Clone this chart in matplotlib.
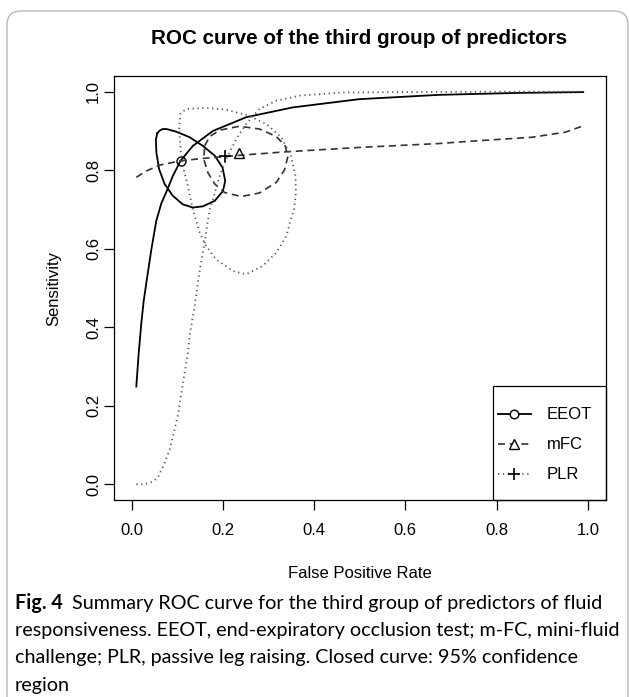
import matplotlib
matplotlib.use('Agg')
import matplotlib.pyplot as plt
from matplotlib.lines import Line2D
from matplotlib.patches import FancyBboxPatch, Rectangle
from matplotlib.transforms import IdentityTransform

plt.rcParams['font.family'] = ['Liberation Sans', 'DejaVu Sans']

title = "ROC curve of the third group of predictors"
names = ["EEOT", "mFC", "PLR"]

# summary ROC curves
eeot_fpr = [0.010, 0.015, 0.021, 0.026, 0.032, 0.043, 0.054, 0.065, 0.076, 0.090, 0.107,
            0.134, 0.178, 0.251, 0.353, 0.499, 0.674, 0.850, 0.990]
eeot_sens = [0.249, 0.330, 0.410, 0.465, 0.513, 0.598, 0.672, 0.716, 0.745, 0.785, 0.824,
             0.862, 0.900, 0.935, 0.960, 0.981, 0.992, 0.997, 0.999]

mfc_fpr = [0.010, 0.032, 0.061, 0.107, 0.156, 0.236, 0.339, 0.499, 0.586, 0.674, 0.732,
           0.878, 0.951, 0.990]
mfc_sens = [0.782, 0.798, 0.813, 0.824, 0.830, 0.838, 0.847, 0.858, 0.863, 0.868, 0.873,
            0.884, 0.897, 0.913]

plr_fpr = [0.010, 0.025, 0.038, 0.048, 0.058, 0.072, 0.083, 0.092, 0.102, 0.109, 0.116,
           0.123, 0.128, 0.133, 0.138, 0.145, 0.153, 0.160, 0.165, 0.171, 0.178, 0.193,
           0.207, 0.229, 0.251, 0.280, 0.317, 0.368, 0.462, 0.600, 0.800, 0.990]
plr_sens = [0.000, 0.000, 0.003, 0.008, 0.019, 0.054, 0.088, 0.130, 0.181, 0.232, 0.284,
            0.335, 0.386, 0.420, 0.454, 0.513, 0.573, 0.616, 0.658, 0.700, 0.726, 0.786,
            0.828, 0.879, 0.918, 0.956, 0.977, 0.990, 0.998, 0.999, 1.000, 1.000]

# summary points
eeot_pt = (0.107, 0.824)
mfc_pt = (0.236, 0.843)
plr_pt = (0.204, 0.835)

# 95% confidence regions
eeot_reg_fpr = [0.056, 0.061, 0.068, 0.076, 0.098, 0.127, 0.156, 0.182, 0.199, 0.205,
                0.200, 0.182, 0.156, 0.134, 0.112, 0.090, 0.072, 0.060, 0.054, 0.053]
eeot_reg_sens = [0.894, 0.901, 0.905, 0.905, 0.898, 0.884, 0.862, 0.837, 0.807, 0.773,
                 0.747, 0.722, 0.708, 0.705, 0.713, 0.735, 0.765, 0.803, 0.845, 0.878]

mfc_reg_fpr = [0.160, 0.171, 0.193, 0.236, 0.280, 0.317, 0.337, 0.342, 0.335, 0.317,
               0.280, 0.240, 0.204, 0.182, 0.167, 0.158]
mfc_reg_sens = [0.862, 0.886, 0.902, 0.912, 0.905, 0.886, 0.861, 0.833, 0.801, 0.769,
                0.742, 0.733, 0.743, 0.765, 0.794, 0.828]

plr_reg_fpr = [0.104, 0.107, 0.120, 0.163, 0.207, 0.251, 0.295, 0.328, 0.349, 0.359,
               0.360, 0.356, 0.349, 0.339, 0.317, 0.287, 0.251, 0.222, 0.185, 0.163,
               0.149, 0.134, 0.123, 0.112, 0.107, 0.105]
plr_reg_sens = [0.905, 0.945, 0.956, 0.959, 0.954, 0.941, 0.918, 0.884, 0.837, 0.786,
                0.743, 0.700, 0.675, 0.632, 0.590, 0.556, 0.535, 0.543, 0.573, 0.607,
                0.641, 0.700, 0.760, 0.811, 0.854, 0.888]

ticks = [0.0, 0.2, 0.4, 0.6, 0.8, 1.0]

caption_bold = "Fig. 4"
caption_lines = [
    "Summary ROC curve for the third group of predictors of fluid",
    "responsiveness. EEOT, end-expiratory occlusion test; m-FC, mini-fluid",
    "challenge; PLR, passive leg raising. Closed curve: 95% confidence",
    "region",
]

W, H = 629, 697
fig = plt.figure(figsize=(W / 100, H / 100), dpi=100)
ax = fig.add_axes([113.5 / W, 1 - 500 / H, 492.5 / W, 424 / H])

styles = [
    dict(color='black', lw=1.3, ls='-'),
    dict(color='#333333', lw=1.2, ls=(0, (4.2, 2.8))),
    dict(color='#555555', lw=1.3, ls=(0, (0.7, 2.0))),
]
markers = [dict(marker='o', ms=6.5), dict(marker='^', ms=7), dict(marker='+', ms=9, mew=1.2)]

curves = [(eeot_fpr, eeot_sens), (mfc_fpr, mfc_sens), (plr_fpr, plr_sens)]
regions = [(eeot_reg_fpr, eeot_reg_sens), (mfc_reg_fpr, mfc_reg_sens), (plr_reg_fpr, plr_reg_sens)]
points = [eeot_pt, mfc_pt, plr_pt]

for (cx, cy), (rx, ry), pt, st, mk in zip(curves, regions, points, styles, markers):
    ax.plot(cx, cy, **st)
    ax.plot(rx + rx[:1], ry + ry[:1], **st)
    ax.plot([pt[0]], [pt[1]], ls='none', color='black', mfc='none', mew=mk.get('mew', 1.0),
            marker=mk['marker'], ms=mk['ms'])

ax.set_xlim(-0.04, 1.04)
ax.set_ylim(-0.04, 1.04)
ax.set_xticks(ticks)
ax.set_yticks(ticks)
ax.set_xticklabels(['%.1f' % t for t in ticks])
ax.set_yticklabels(['%.1f' % t for t in ticks], rotation=90, va='center')
ax.tick_params(axis='both', direction='out', length=7.5, width=0.9, labelsize=12)
ax.tick_params(axis='x', pad=9)
ax.tick_params(axis='y', pad=1.5)
for sp in ax.spines.values():
    sp.set_linewidth(0.9)

ax.set_xlabel("False Positive Rate", fontsize=12)
ax.set_ylabel("Sensitivity", fontsize=12)
ax.xaxis.set_label_coords(0.5, -0.156)
ax.yaxis.set_label_coords(-0.106, 0.5)

fig.text(359 / W, 1 - 38 / H, title, ha='center', va='center', fontsize=14.9, fontweight='bold')

# legend box, drawn by hand like R's legend()
ax.add_patch(Rectangle((0.7706, 0.0), 1 - 0.7706, 0.2689, transform=ax.transAxes,
                       fill=False, edgecolor='black', lw=0.9, clip_on=False))
rows = [0.2028, 0.132, 0.0613]
for name, y, st, mk in zip(names, rows, styles, markers):
    ax.add_line(Line2D([0.7797, 0.8487], [y, y], transform=ax.transAxes, **st))
    ax.add_line(Line2D([0.8132], [y], transform=ax.transAxes, ls='none', color='black',
                       mfc='white', mew=mk.get('mew', 1.0), marker=mk['marker'],
                       ms=mk['ms'] * 0.95))
    ax.text(0.8802, y, name, transform=ax.transAxes, fontsize=12, va='center', ha='left')

# caption
r = fig.canvas.get_renderer()
probe = fig.text(0, 0, caption_lines[1], fontsize=10, family='Lato')
cap_size = 10 * 606 / probe.get_window_extent(r).width
probe.remove()

line_y = [603, 630.5, 658, 685]
b = fig.text(15 / W, 1 - line_y[0] / H, caption_bold, fontsize=cap_size, family='Lato',
             fontweight='bold', va='center', ha='left')
bw = b.get_window_extent(r).width
fig.text((15 + bw + 9) / W, 1 - line_y[0] / H, caption_lines[0], fontsize=cap_size,
         family='Lato', va='center', ha='left')
for txt, y in zip(caption_lines[1:], line_y[1:]):
    fig.text(15 / W, 1 - y / H, txt, fontsize=cap_size, family='Lato', va='center', ha='left')

# rounded frame around the figure, cut off at the right and bottom edges
frame = FancyBboxPatch((7, -40), 621, H - 11 + 40, boxstyle='round,pad=0,rounding_size=14',
                       transform=IdentityTransform(), fill=False, edgecolor='#b8b8b8', lw=1.0)
fig.add_artist(frame)

fig.savefig('out.png', dpi=100)
